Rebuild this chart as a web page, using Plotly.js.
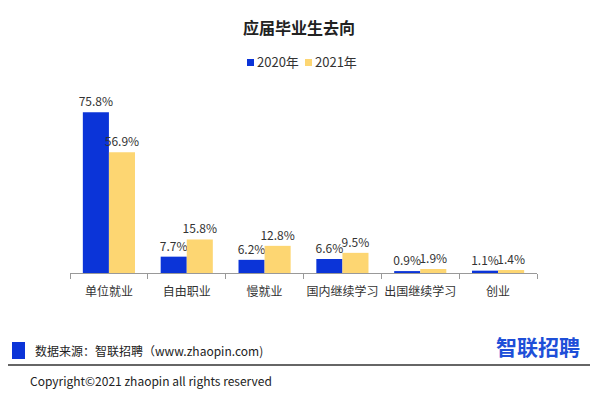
<!DOCTYPE html>
<html><head><meta charset="utf-8">
<script src="https://cdn.plot.ly/plotly-3.0.1.min.js"></script>
<style>html,body{margin:0;padding:0;background:#fff}#c{width:590px;height:399px}</style>
</head><body><div id="c"></div>
<script>
const categories = ["单位就业","自由职业","慢就业","国内继续学习","出国继续学习","创业"];
const values2020 = [75.8, 7.7, 6.2, 6.6, 0.9, 1.1];
const values2021 = [56.9, 15.8, 12.8, 9.5, 1.9, 1.4];
const seriesNames = ["2020年","2021年"];
const seriesColors = ["#0B34D8","#FDD672"];

const F = '"Noto Sans CJK SC", "Noto Sans", sans-serif';
const fmt = v => v.toFixed(1) + "%";
const traces = [values2020, values2021].map((vals,i)=>({
  type:"bar", name:seriesNames[i], x:categories, y:vals, marker:{color:seriesColors[i]},
  text:vals.map(fmt), textposition:"outside", cliponaxis:false, constraintext:"none",
  textfont:{family:F,size:12,color:"#333"}, showlegend:false
}));
const W=467,H=191,L=70,B=273;
const px=x=>(x-L)/W, py=y=>(B-y)/H;
const layout = {
  width:590, height:399,
  margin:{l:70,r:53,t:82,b:126},
  paper_bgcolor:"#fff", plot_bgcolor:"#fff",
  font:{family:F,size:12,color:"#333"},
  title:{text:"<b>应届毕业生去向</b>", x:0.507, xanchor:"center", y:1-28/399, yanchor:"middle",
         font:{family:F,size:16,color:"#222"}},
  barmode:"group", bargap:0.33, bargroupgap:0,
  xaxis:{showline:true, linecolor:"#999", linewidth:1, ticks:"outside", tickson:"boundaries",
         ticklen:5, tickcolor:"#999", tickangle:0, ticklabelstandoff:8,
         tickfont:{family:F,size:12,color:"#333"}, showgrid:false, fixedrange:true},
  yaxis:{range:[0,90], visible:false, showgrid:false, zeroline:false, fixedrange:true},
  shapes:[
    {type:"rect", xref:"paper", yref:"paper", x0:px(247), x1:px(254), y0:py(59), y1:py(66),
     fillcolor:seriesColors[0], line:{width:0}},
    {type:"rect", xref:"paper", yref:"paper", x0:px(305), x1:px(312), y0:py(59), y1:py(66),
     fillcolor:seriesColors[1], line:{width:0}},
    {type:"rect", xref:"paper", yref:"paper", x0:px(12), x1:px(25), y0:py(342), y1:py(359),
     fillcolor:"#0B34D8", line:{width:0}},
    {type:"line", xref:"paper", yref:"paper", x0:px(8), x1:px(592), y0:py(365), y1:py(365),
     line:{color:"#666", width:2}}
  ],
  annotations:[
    {xref:"paper", yref:"paper", x:px(255), y:py(62), xanchor:"left", yanchor:"middle", showarrow:false,
     text:seriesNames[0], font:{family:F,size:13,color:"#333"}},
    {xref:"paper", yref:"paper", x:px(313), y:py(62), xanchor:"left", yanchor:"middle", showarrow:false,
     text:seriesNames[1], font:{family:F,size:13,color:"#333"}},
    {xref:"paper", yref:"paper", x:px(33), y:py(350), xanchor:"left", yanchor:"middle", showarrow:false,
     text:"数据来源：智联招聘（www.zhaopin.com)", font:{family:F,size:12,color:"#222"}},
    {xref:"paper", yref:"paper", x:px(582), y:py(346), xanchor:"right", yanchor:"middle", showarrow:false,
     text:"<b>智联招聘</b>", font:{family:F,size:21,color:"#1E4FD8"}},
    {xref:"paper", yref:"paper", x:px(28), y:py(380), xanchor:"left", yanchor:"middle", showarrow:false,
     text:"Copyright©2021 zhaopin all rights reserved", font:{family:F,size:12,color:"#222"}}
  ]
};
Plotly.newPlot("c", traces, layout, {displayModeBar:false, staticPlot:true});
</script></body></html>
